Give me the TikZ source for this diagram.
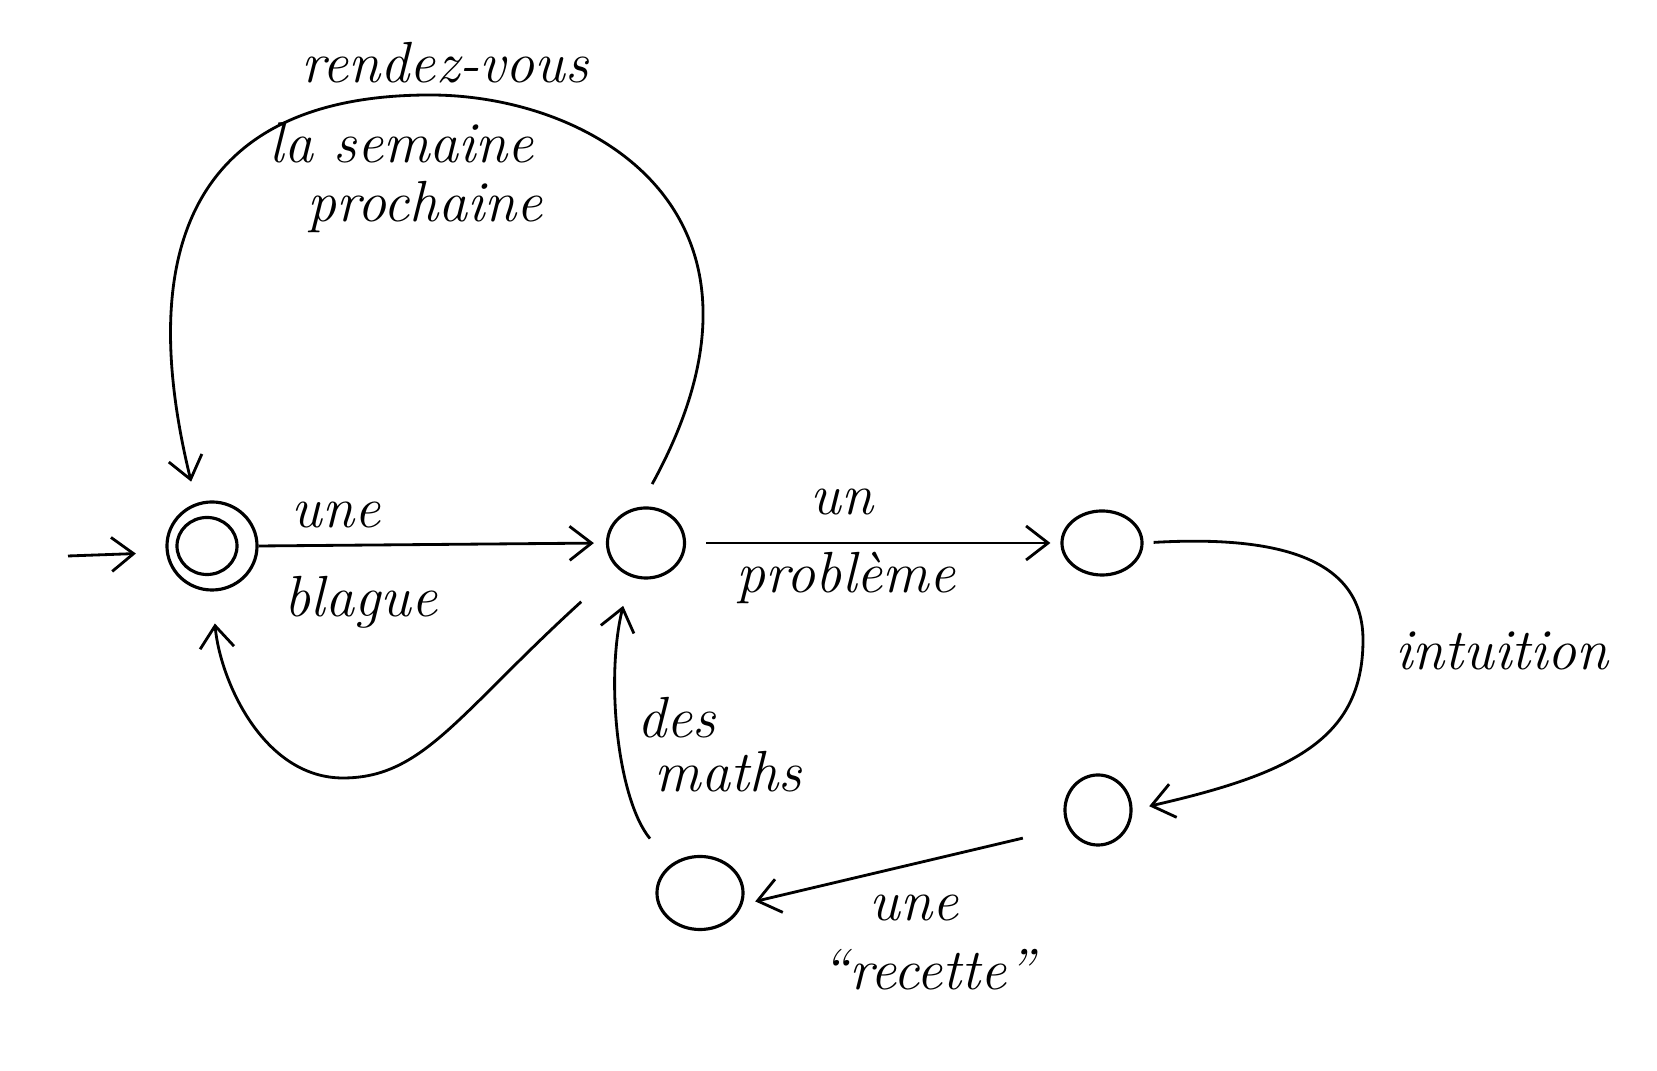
\documentclass[tikz,border=0pt]{standalone}
\usetikzlibrary{arrows.meta,shapes.geometric}

\begin{document}
\begin{tikzpicture}[x=0.01cm,y=-0.01cm,
  etat/.style={ellipse,draw,line width=0.9pt,inner sep=0pt},
  fleche/.style={-{Straight Barb[length=2.2mm,width=3.4mm]},line width=0.8pt},
  mot/.style={anchor=base,inner sep=0pt,font=\fontsize{16.5}{19}\selectfont\itshape}]

\useasboundingbox (0,0) rectangle (1657,1071);

% states
\node[etat,minimum width=0.90cm,minimum height=0.88cm] (s0) at (212,546) {};
\node[etat,minimum width=0.60cm,minimum height=0.57cm] (s0in) at (207,546) {};
\node[etat,minimum width=0.77cm,minimum height=0.70cm] (s2) at (646,543) {};
\node[etat,minimum width=0.80cm,minimum height=0.64cm] (s3) at (1102,543) {};
\node[etat,minimum width=0.66cm,minimum height=0.70cm] (s4) at (1098,810) {};
\node[etat,minimum width=0.86cm,minimum height=0.73cm] (s5) at (700,893) {};

% initial arrow
\coordinate (init) at (68,556);
\draw[fleche,shorten >=0.3cm] (init) -- (s0.188);

% straight transitions
\draw[fleche,shorten >=1.2mm] (s0.east) -- (s2.west);
\draw[fleche,shorten <=2mm,shorten >=1mm] (s2.east) -- (s3.west);
\draw[fleche,shorten <=0.46cm,shorten >=0.13cm] (s4.210) -- (s5.345);

% big loop over the top, back to the start
\draw[fleche,shorten <=0.26cm,shorten >=0.22cm] (s2.100)
  .. controls (800,215) and (595,95) .. (430,95)
  .. controls (200,95) and (132,240) .. (s0.110);

% loop underneath, back to the start
\draw[fleche,shorten <=0.49cm,shorten >=0.32cm] (s2.222)
  .. controls (458,714) and (423,778) .. (343,778)
  .. controls (263,778) and (220,680) .. (s0.south);

% right hand bend
\draw[fleche,shorten <=1mm,shorten >=1.7mm] (s3.east)
  .. controls (1282,535) and (1363,560) .. (1363,640)
  .. controls (1363,740) and (1290,774) .. (s4.east);

% back up
\draw[fleche,shorten <=0.33cm,shorten >=0.3cm] (s5.135)
  .. controls (618,800) and (605,680) .. (s2.245);

% words on the transitions
\node[mot] (rdv) at (445,83) {rendez-vous};
\node[mot] (semaine) at (402,163) {la semaine};
\node[mot] (prochaine) at (425,222) {prochaine};
\node[mot] (une) at (336,528) {une};
\node[mot] (blague) at (361,617) {blague};
\node[mot] (un) at (842,515) {un};
\node[mot] (probleme) at (846,593) {problème};
\node[mot] (intuition) at (1502,670) {intuition};
\node[mot] (des) at (677,738) {des};
\node[mot] (maths) at (728,792) {maths};
\node[mot] (une2) at (914,921) {une};
\node[mot] (recette) at (928,990) {“recette”};

\end{tikzpicture}
\end{document}
